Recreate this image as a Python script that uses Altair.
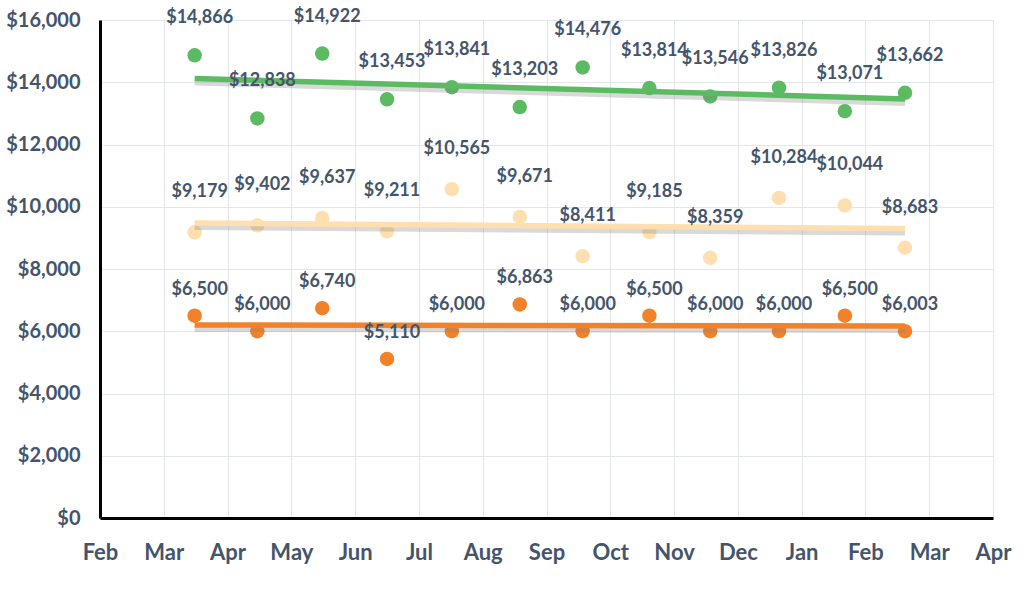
import altair as alt
import pandas as pd

# ---- data -------------------------------------------------------------
dates = ["2023-03-16", "2023-04-15", "2023-05-16", "2023-06-16", "2023-07-17",
         "2023-08-19", "2023-09-18", "2023-10-20", "2023-11-18", "2023-12-21",
         "2024-01-22", "2024-02-19"]
series_names = ["High", "Mid", "Low"]
high_values = [14866, 12838, 14922, 13453, 13841, 13203, 14476, 13814, 13546, 13826, 13071, 13662]
mid_values = [9179, 9402, 9637, 9211, 10565, 9671, 8411, 9185, 8359, 10284, 10044, 8683]
low_values = [6500, 6000, 6740, 5110, 6000, 6863, 6000, 6500, 6000, 6000, 6500, 6003]
month_labels = ["Feb", "Mar", "Apr", "May", "Jun", "Jul", "Aug", "Sep", "Oct",
                "Nov", "Dec", "Jan", "Feb", "Mar", "Apr"]
axis_start = "2023-02-01"
y_ticks = [0, 2000, 4000, 6000, 8000, 10000, 12000, 14000, 16000]

colors = {"High": "#5CBB62", "Mid": "#FFDFAF", "Low": "#F2822A"}
label_dy = {"High": -37, "Mid": -40, "Low": -26}

# Excel-style date axis: every month gets the same width
start = pd.Timestamp(axis_start)


def month_pos(s):
    t = pd.Timestamp(s)
    return (t.year - start.year) * 12 + (t.month - start.month) + (t.day - 1) / t.days_in_month


rows = []
for name, vals in zip(series_names, [high_values, mid_values, low_values]):
    for d, v in zip(dates, vals):
        rows.append({"date": d, "m": month_pos(d), "value": v, "series": name})
df = pd.DataFrame(rows)

TEXT = "#44546A"
FONT = "Lato"

n_months = len(month_labels) - 1
label_array = "[" + ",".join("'%s'" % m for m in month_labels) + "]"

x_scale = alt.Scale(domain=[0, n_months], nice=False, zero=False)
y_scale = alt.Scale(domain=[0, 16000], nice=False)
color_scale = alt.Scale(domain=series_names, range=[colors[s] for s in series_names])

x_enc = alt.X(
    "m:Q", scale=x_scale, title=None,
    axis=alt.Axis(values=list(range(n_months + 1)),
                  labelExpr=label_array + "[datum.value]",
                  labelFont=FONT, labelFontSize=22, labelFontWeight="bold",
                  labelColor=TEXT, labelPadding=24, labelFlush=False,
                  labelOverlap=False, ticks=False,
                  domainColor="black", domainWidth=3,
                  grid=True, gridColor="#E3E7EC", gridWidth=1),
)
y_enc = alt.Y(
    "value:Q", scale=y_scale, title=None,
    axis=alt.Axis(values=y_ticks, format="$,.0f",
                  labelFont=FONT, labelFontSize=20, labelFontWeight="bold",
                  labelColor=TEXT, labelPadding=20, ticks=False,
                  domainColor="black", domainWidth=3,
                  grid=True, gridColor="#E3E7EC", gridWidth=1),
)

base = alt.Chart(df)

points = base.mark_circle(size=210, opacity=1).encode(
    x=x_enc, y=y_enc,
    color=alt.Color("series:N", scale=color_scale, legend=None),
)

reg = base.transform_regression("m", "value", groupby=["series"])

shadow = reg.mark_line(strokeWidth=6, color="#808080", opacity=0.3, yOffset=4).encode(
    x=alt.X("m:Q", scale=x_scale),
    y=alt.Y("value:Q", scale=y_scale),
    detail="series:N",
)

trend = reg.mark_line(strokeWidth=5.5).encode(
    x=alt.X("m:Q", scale=x_scale),
    y=alt.Y("value:Q", scale=y_scale),
    color=alt.Color("series:N", scale=color_scale, legend=None),
)

labels = []
for name in series_names:
    labels.append(
        base.transform_filter(alt.datum.series == name)
        .mark_text(font=FONT, fontSize=18, fontWeight="bold", color=TEXT,
                   dy=label_dy[name], dx=5, align="center", baseline="middle")
        .encode(
            x=alt.X("m:Q", scale=x_scale),
            y=alt.Y("value:Q", scale=y_scale),
            text=alt.Text("value:Q", format="$,.0f"),
        )
    )

chart = alt.layer(points, shadow, trend, *labels).properties(
    width=893, height=498,
    padding={"left": 100, "top": 20, "right": 31, "bottom": 76},
    autosize=alt.AutoSizeParams(type="none"),
    background="white",
).configure_view(stroke=None)

chart.save("out.html", embed_options={"renderer": "svg", "actions": False})
